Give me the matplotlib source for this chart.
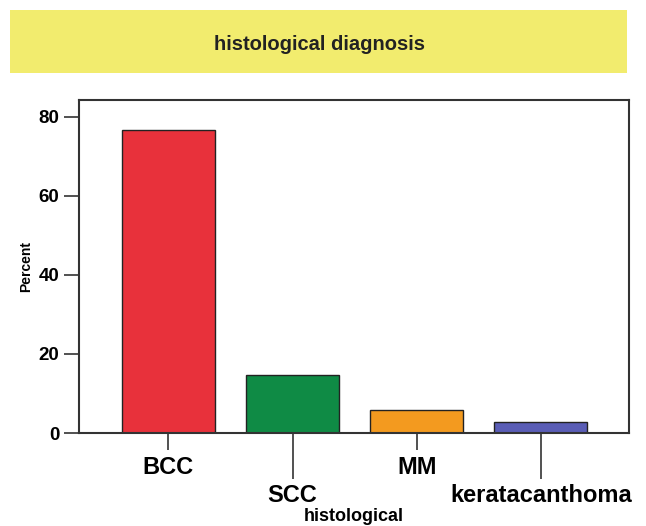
import matplotlib
matplotlib.use("Agg")
import matplotlib.pyplot as plt
from matplotlib.patches import Rectangle

categories = ["BCC", "SCC", "MM", "keratacanthoma"]
percent = [76.5, 14.7, 5.9, 2.9]
colors = ["#E8313B", "#0F8B45", "#F39A1F", "#5A5DB6"]
yticks = [0, 20, 40, 60, 80]

plt.rcParams["font.family"] = ["Liberation Sans", "DejaVu Sans"]

fig = plt.figure(figsize=(6.46, 5.26), dpi=100)

# yellow title banner
fig.patches.append(Rectangle((0.0155, 0.861), 0.955, 0.120, transform=fig.transFigure,
                             facecolor="#F2EC6E", edgecolor="none", zorder=0))
fig.text(0.495, 0.916, "histological diagnosis", ha="center", va="center",
         fontsize=14.5, fontweight="bold", color="#222222")

ax = fig.add_axes([0.1223, 0.1768, 0.8514, 0.6332])
x = list(range(len(categories)))
ax.bar(x, percent, width=0.75, color=colors, edgecolor="#222222", linewidth=1.0, zorder=2)

ax.set_xlim(-0.72, 3.71)
ax.set_ylim(0, 84.2)
ax.set_yticks(yticks)
ax.set_yticklabels([str(v) for v in yticks], fontsize=13.5, fontweight="bold")
ax.tick_params(axis="y", length=11, width=1.2, pad=3, color="#333333")

# alternate short/long x ticks so labels stagger
ax.set_xticks([0, 2])
ax.set_xticklabels([categories[0], categories[2]], fontsize=17, fontweight="bold")
ax.set_xticks([1, 3], minor=True)
ax.set_xticklabels([categories[1], categories[3]], minor=True, fontsize=17, fontweight="bold")
ax.tick_params(axis="x", which="major", length=12.5, width=1.2, pad=4, color="#333333")
ax.tick_params(axis="x", which="minor", length=33, width=1.2, pad=4, color="#333333")

for s in ax.spines.values():
    s.set_linewidth(1.5)
    s.set_color("#333333")

ax.set_ylabel("Percent", fontsize=10, fontweight="bold", labelpad=4)
ax.set_xlabel("histological", fontsize=13, fontweight="bold")
ax.xaxis.set_label_coords(0.5, -0.224)
ax.xaxis.label.set_va("top")

fig.savefig("out.png", dpi=100)
